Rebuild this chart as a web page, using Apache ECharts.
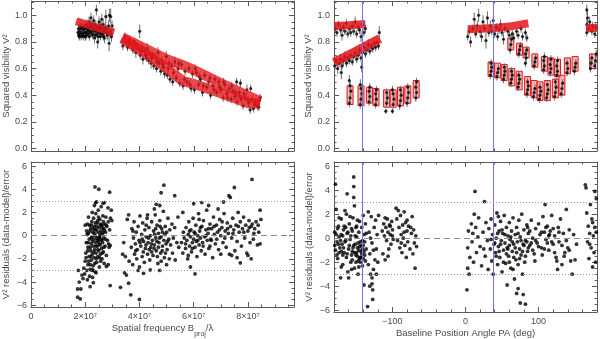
<!DOCTYPE html>
<html>
<head>
<meta charset="utf-8">
<script src="https://cdn.jsdelivr.net/npm/echarts@6/dist/echarts.min.js"></script>
<style>
html, body { margin: 0; padding: 0; background: #fff; }
#chart { width: 600px; height: 339px; }
</style>
</head>
<body>
<div id="chart"></div>
<script>
// spatial frequency is kept in units of 1e7 (labels add the x10^7)
// squared visibility vs spatial frequency: [freq, V2, error]
const vis2FreqData = [
  [1.72,0.87,0.03],[1.75,0.85,0.03],[1.78,0.88,0.03],[1.8,0.86,0.03],[1.83,0.9,0.03],[1.86,0.87,0.03],[1.9,0.85,0.03],[1.92,0.89,0.03],
  [1.95,0.92,0.03],[1.98,0.87,0.03],[2.0,0.84,0.03],[2.03,0.9,0.03],[2.05,0.93,0.04],[2.08,0.88,0.03],[2.1,0.86,0.03],[2.13,0.95,0.04],
  [2.15,0.91,0.03],[2.18,0.87,0.03],[2.2,0.98,0.04],[2.23,0.93,0.03],[2.25,0.85,0.03],[2.28,0.9,0.03],[2.3,0.96,0.04],[2.33,0.83,0.04],
  [2.35,0.88,0.03],[2.38,0.92,0.04],[2.4,1.04,0.04],[2.42,0.86,0.03],[2.45,0.8,0.05],[2.48,0.91,0.04],[2.5,0.95,0.04],[2.52,0.87,0.03],
  [2.55,0.84,0.03],[2.58,0.9,0.04],[2.6,0.97,0.04],[2.63,0.86,0.03],[2.65,0.93,0.04],[2.68,0.88,0.03],[2.7,0.83,0.04],[2.73,0.91,0.04],
  [2.75,0.99,0.05],[2.78,0.87,0.03],[2.8,0.85,0.04],[2.85,0.92,0.04],[2.88,1.0,0.05],[2.9,0.88,0.04],[2.93,0.99,0.06],[2.96,0.84,0.04],
  [2.98,0.92,0.04],[2.87,0.79,0.06],
  [1.74,0.9,0.03],[1.77,0.84,0.03],[1.81,0.92,0.03],[1.84,0.84,0.03],[1.88,0.91,0.03],[1.91,0.86,0.03],[1.94,0.84,0.03],[1.97,0.9,0.03],
  [2.01,0.87,0.03],[2.04,0.85,0.03],[2.07,0.91,0.03],[2.11,0.89,0.03],[2.14,0.84,0.03],[2.17,0.93,0.03],[2.21,0.88,0.03],[2.24,0.91,0.03],
  [2.27,0.86,0.03],[2.31,0.89,0.03],[2.34,0.93,0.03],[2.37,0.85,0.03],[2.41,0.9,0.03],[2.44,0.88,0.03],[2.47,0.84,0.03],[2.51,0.9,0.03],
  [2.54,0.92,0.04],[2.57,0.86,0.03],[2.62,0.9,0.03],[2.66,0.84,0.03],[2.71,0.88,0.03],[2.76,0.9,0.03],[2.82,0.86,0.04],[2.94,0.86,0.04],
  [3.38,0.77,0.03],[3.45,0.84,0.03],[3.5,0.8,0.03],[3.55,0.76,0.03],[3.62,0.82,0.03],[3.7,0.78,0.04],[3.75,0.74,0.03],[3.8,0.8,0.03],
  [3.86,0.72,0.04],[3.9,0.77,0.03],[3.95,0.75,0.03],[4.0,0.88,0.05],[4.02,0.7,0.03],[4.08,0.76,0.03],[4.12,0.67,0.04],[4.18,0.73,0.03],
  [4.22,0.7,0.03],[4.28,0.75,0.04],[4.33,0.66,0.03],[4.38,0.71,0.03],[4.42,0.64,0.04],[4.48,0.7,0.03],[4.52,0.62,0.03],[4.58,0.68,0.04],
  [4.62,0.6,0.03],[4.68,0.72,0.04],[4.72,0.64,0.03],[4.78,0.58,0.03],[4.82,0.66,0.03],[4.88,0.61,0.04],[4.92,0.56,0.03],[4.98,0.69,0.04],
  [5.02,0.55,0.03],[5.08,0.64,0.03],[5.12,0.52,0.03],[5.18,0.62,0.03],[5.22,0.5,0.03],[5.3,0.65,0.04],[5.35,0.53,0.03],[5.42,0.6,0.03],
  [5.48,0.49,0.03],[5.55,0.63,0.03],[5.6,0.47,0.03],[5.68,0.58,0.03],[5.75,0.5,0.03],[5.82,0.6,0.03],[5.9,0.45,0.03],[5.95,0.56,0.03],
  [6.02,0.44,0.03],[6.1,0.57,0.03],[6.18,0.48,0.03],[6.25,0.52,0.03],[6.32,0.42,0.03],[6.4,0.55,0.03],[6.48,0.46,0.03],[6.55,0.5,0.03],
  [6.62,0.4,0.03],[6.7,0.47,0.03],[6.78,0.52,0.03],[6.85,0.42,0.03],[6.92,0.5,0.03],[7.0,0.44,0.03],[7.08,0.38,0.03],[7.15,0.48,0.03],
  [7.22,0.41,0.03],[7.3,0.45,0.03],[7.38,0.37,0.03],[7.45,0.43,0.03],[7.52,0.39,0.03],[7.58,0.5,0.03],[7.6,0.35,0.03],[7.68,0.42,0.03],
  [7.72,0.49,0.03],[7.75,0.37,0.03],[7.82,0.32,0.03],[7.9,0.38,0.03],[7.96,0.44,0.04],[8.02,0.34,0.03],[8.08,0.29,0.03],[8.1,0.45,0.03],
  [8.15,0.37,0.03],[8.2,0.3,0.03],[8.28,0.35,0.03],[8.35,0.32,0.03],[8.42,0.36,0.03],
  [3.6,0.79,0.03],[3.85,0.77,0.03],[4.05,0.73,0.03],[4.25,0.68,0.03],[4.45,0.68,0.03],[4.65,0.65,0.03],[4.85,0.63,0.03],[5.05,0.6,0.03],
  [5.25,0.57,0.03],[5.45,0.64,0.03],[5.65,0.52,0.03],[5.85,0.48,0.03],[6.05,0.6,0.03],[6.2,0.54,0.03],[6.35,0.47,0.03],[6.6,0.53,0.03],
  [6.75,0.44,0.03],[6.95,0.46,0.03],[7.1,0.5,0.03],[7.25,0.38,0.03],[7.4,0.47,0.03],[7.55,0.42,0.03],[7.7,0.39,0.03],[7.85,0.41,0.03],
  [8.0,0.37,0.03],[8.25,0.33,0.03],[8.4,0.31,0.03],[8.45,0.38,0.03]
];
// model bands (red) in the frequency plot: [freq, V2]
const modelFreqShort = [[1.65,0.955],[3.05,0.87]];
const modelFreqUpper = [[3.35,0.835],[4.2,0.75],[5.0,0.67],[5.6,0.625],[6.0,0.59],[6.5,0.54],[7.0,0.49],[8.0,0.395],[8.45,0.355]];
const modelFreqLower = [[3.35,0.825],[4.2,0.715],[5.0,0.6],[5.6,0.505],[6.0,0.485],[6.5,0.45],[7.0,0.415],[8.0,0.34],[8.45,0.335]];

// residuals vs spatial frequency: [freq, residual]
const residFreq = [
  [1.72,-5.3],[1.82,-5.45],[1.72,-4.6],[1.84,-4.6],[1.78,-4.0],[1.92,-3.7],[1.75,-3.0],[1.88,-3.4],[1.98,-3.3],[2.08,-3.8],[2.18,-4.4],
  [2.27,-3.6],[2.3,-4.05],[2.36,4.2],[2.5,4.0],[2.9,3.75],[2.92,-4.3],[2.7,2.85],[2.38,2.85],[2.42,2.9],[2.85,-2.5],[2.78,-2.65],
  [2.96,2.2],[2.93,1.5],[2.98,1.3],[2.86,-0.7],[2.92,-0.85],
  [1.95,-2.8],[2.0,-2.2],[2.02,-1.5],[2.04,-0.6],[2.05,0.4],[2.06,-3.0],[2.08,1.0],[2.1,-2.5],[2.1,-1.0],[2.12,0.2],[2.14,-1.8],
  [2.15,-0.3],[2.16,0.9],[2.18,-2.9],[2.2,-1.3],[2.2,0.6],[2.22,-0.7],[2.23,-2.1],[2.24,1.2],[2.25,-0.1],[2.26,-1.6],[2.28,0.3],
  [2.29,-2.6],[2.3,-0.9],[2.31,1.5],[2.32,-0.3],[2.33,-1.9],[2.34,0.8],[2.35,-1.2],[2.36,-3.1],[2.37,0.0],[2.38,-0.6],[2.39,1.9],
  [2.4,-1.5],[2.41,0.5],[2.42,-2.3],[2.43,-0.2],[2.44,1.1],[2.45,-0.9],[2.46,-1.8],[2.47,0.3],[2.48,2.2],[2.49,-0.5],[2.5,-1.3],
  [2.51,0.7],[2.52,-2.7],[2.53,-0.1],[2.54,1.4],[2.55,-0.8],[2.56,-1.6],[2.57,0.4],[2.58,-0.3],[2.59,2.5],[2.6,-1.1],[2.61,0.9],
  [2.62,-2.0],[2.63,0.1],[2.64,-0.6],[2.65,1.7],[2.67,-1.4],[2.68,0.6],[2.69,-0.2],[2.7,-2.4],[2.72,1.0],[2.73,-0.9],[2.75,0.3],
  [2.76,1.6],[2.78,-1.7],[2.8,0.8],[2.82,-0.4],[2.84,2.4],[2.85,1.2],[2.88,-1.0],[2.9,0.5],[2.16,-3.5],[2.28,-2.95],[2.4,-3.2],
  [2.0,0.9],[2.12,1.6],[2.26,2.0],[2.34,2.6],[2.46,1.3],[2.55,1.0],[2.66,2.8],[2.22,-0.2],[2.36,0.5],[2.5,-0.2],[2.62,0.7],
  [2.03,-1.9],[2.07,0.1],[2.11,-0.6],[2.13,-2.2],[2.17,0.4],[2.19,-1.0],[2.21,-1.8],[2.23,0.9],[2.27,-0.5],[2.29,0.6],[2.31,-1.4],
  [2.33,0.2],[2.35,-2.4],[2.37,1.1],[2.39,-0.9],[2.41,-2.0],[2.43,0.8],[2.45,-0.4],[2.47,-1.2],[2.49,1.6],[2.51,-0.7],[2.53,-1.9],
  [2.55,0.1],[2.57,-2.2],[2.59,0.9],[2.61,-0.4],[2.63,-1.5],[2.65,0.3],[2.67,1.2],[2.69,-1.0],[2.71,0.5],[2.74,-0.3],[2.77,0.9],
  [2.19,-2.5],[2.25,-3.0],[2.09,-1.3],
  [3.3,-4.45],[3.45,-3.2],[3.52,-3.4],[3.6,-4.1],[3.68,-5.1],[4.0,-5.5],[3.6,1.8],[3.55,1.4],[3.42,-0.6],[3.38,-1.6],[4.9,4.35],
  [4.8,3.7],[5.3,3.45],[4.62,2.7],[4.75,2.6],[4.15,-3.25],[4.4,-2.95],[4.75,-3.0],[3.48,-1.8],[3.62,-2.2],
  [3.7,-1.0],[3.72,0.6],[3.75,-2.5],[3.78,-0.2],[3.8,1.2],[3.82,-1.6],[3.85,-0.7],[3.88,0.3],[3.9,-2.0],[3.92,-1.2],[3.95,0.8],
  [3.98,-0.4],[4.0,-2.7],[4.02,1.7],[4.05,-0.9],[4.08,0.1],[4.1,-1.8],[4.12,1.1],[4.15,-0.5],[4.18,-2.3],[4.2,0.5],[4.22,-1.1],
  [4.25,-0.1],[4.28,1.5],[4.3,-1.6],[4.32,-0.6],[4.35,0.7],[4.38,-2.1],[4.4,0.0],[4.42,-1.0],[4.45,1.2],[4.48,-0.4],[4.5,-1.7],
  [4.52,0.4],[4.55,-0.8],[4.58,1.8],[4.6,-0.2],[4.62,-1.3],[4.65,0.9],[4.68,-2.4],[4.7,0.2],[4.72,-0.6],[4.75,1.3],[4.78,-1.5],
  [4.8,-0.1],[4.82,0.6],[4.85,-0.9],[4.88,2.1],[4.9,-0.4],[4.92,-1.9],[4.95,0.8],[4.98,-0.7],[5.0,0.3],[5.02,-1.2],[5.05,1.5],
  [5.08,-0.3],[5.1,-2.0],[5.12,0.5],[5.15,-0.8],[5.2,1.0],[5.22,-1.5],[5.25,-0.2],[5.3,0.7],[5.32,-2.1],[5.38,-0.6],[5.42,1.6],
  [5.45,-1.0],[4.25,0.9],[4.45,-1.4],[4.6,0.6],[4.7,-1.0],[4.85,0.3],[4.55,2.3],[4.3,1.8],[4.1,-0.3],[3.95,-3.0],[4.8,-2.2],[5.0,-2.5],
  [4.02,-0.6],[4.14,-1.4],[4.24,-0.8],[4.34,-0.2],[4.44,-0.7],[4.54,-1.1],[4.64,-0.5],[4.74,-0.2],[4.84,-1.3],[4.94,0.1],[5.04,-0.5],
  [4.36,-1.2],[4.56,0.1],[4.66,-1.8],[4.76,0.8],[4.96,-1.5],[3.86,-1.3],[3.76,0.4],
  [8.15,4.85],[7.5,4.15],[7.3,3.45],[7.35,3.3],[6.05,-3.3],[7.72,-2.35],[8.12,-2.0],[8.45,2.2],[6.3,2.85],[6.0,2.75],[5.88,-2.7],
  [5.6,2.0],[7.1,2.9],[6.55,2.6],
  [5.55,-0.6],[5.6,-1.5],[5.62,0.3],[5.65,-0.2],[5.7,-1.1],[5.72,0.7],[5.75,-0.4],[5.78,-2.0],[5.8,0.1],[5.82,1.2],[5.85,-0.9],
  [5.88,-0.1],[5.9,0.5],[5.92,-1.4],[5.95,-0.6],[5.98,1.5],[6.0,-0.3],[6.02,0.3],[6.05,-1.0],[6.08,0.9],[6.1,-0.5],[6.12,-1.8],
  [6.15,0.0],[6.18,1.9],[6.2,-0.8],[6.22,0.4],[6.25,-0.2],[6.28,-1.3],[6.3,0.8],[6.33,-0.6],[6.36,1.3],[6.4,-0.1],[6.42,-1.6],
  [6.45,0.5],[6.48,2.2],[6.5,-0.4],[6.53,0.2],[6.56,-1.1],[6.6,1.0],[6.63,-0.3],[6.66,0.6],[6.7,-1.9],[6.73,1.6],[6.76,0.1],
  [6.8,-0.7],[6.84,0.9],[6.88,0.3],[6.92,-1.2],[6.96,1.4],[7.0,0.0],[7.04,0.7],[7.08,-0.6],[7.12,1.9],[7.16,0.4],[7.2,-1.0],
  [7.24,1.1],[7.28,0.2],[7.32,-1.6],[7.36,0.8],[7.4,-0.2],[7.44,1.5],[7.48,0.5],[7.52,-1.3],[7.56,0.9],[7.6,-0.5],[7.64,2.0],
  [7.68,0.3],[7.72,1.2],[7.76,-0.9],[7.8,0.6],[7.84,1.6],[7.88,-0.2],[7.92,0.9],[7.96,-1.5],[8.0,0.4],[8.04,1.3],[8.08,-0.6],
  [8.12,0.8],[8.16,1.0],[8.2,-0.3],[8.25,0.6],[8.3,1.2],[8.35,-0.8],[8.4,0.3],[8.45,-0.7],[8.48,1.4],[7.4,-1.7],[7.6,-1.9],
  [8.0,-1.7],[6.2,1.4],[5.8,-1.7],[6.6,-0.9],[6.9,2.3],[7.0,-1.6],
  [5.7,-0.7],[5.85,0.4],[5.95,-1.1],[6.05,0.2],[6.15,-0.4],[6.25,0.7],[6.35,-0.9],[6.45,0.0],[6.55,0.6],[6.65,-0.4],[6.75,0.8],
  [6.85,-0.3],[6.95,0.5],[7.05,1.2],[7.15,-0.2],[7.25,0.6],[7.45,0.2],[7.65,0.8],[7.85,0.3],[8.05,0.7],[8.22,0.2],[8.38,0.9]
];

// squared visibility vs position angle: [PA, V2, error]
const vis2PaData = [
  [-178,0.9,0.03],[-176,0.87,0.03],[-174,0.93,0.03],[-171,0.89,0.03],[-169,0.85,0.04],[-167,0.91,0.03],[-165,0.88,0.03],[-163,0.94,0.03],
  [-161,0.86,0.03],[-159,0.9,0.03],[-157,0.87,0.03],[-155,0.92,0.03],[-153,0.88,0.03],[-151,0.95,0.04],[-149,0.86,0.03],[-147,0.91,0.03],
  [-145,0.89,0.03],[-143,0.84,0.04],[-141,0.93,0.04],[-139,0.87,0.03],[-137,0.9,0.03],
  [-179,0.62,0.04],[-177,0.66,0.04],[-175,0.6,0.04],[-173,0.64,0.03],[-171,0.67,0.04],[-169,0.62,0.03],[-167,0.66,0.04],[-165,0.69,0.04],
  [-163,0.64,0.03],[-161,0.68,0.04],[-159,0.66,0.03],[-157,0.7,0.04],[-155,0.65,0.03],[-153,0.69,0.03],[-151,0.72,0.04],[-149,0.67,0.03],
  [-147,0.7,0.03],[-145,0.74,0.04],[-143,0.68,0.03],[-141,0.72,0.04],[-139,0.76,0.04],[-137,0.71,0.03],[-135,0.74,0.03],[-133,0.78,0.04],
  [-131,0.73,0.03],[-129,0.77,0.04],[-127,0.75,0.03],[-125,0.79,0.04],[-123,0.76,0.03],[-121,0.8,0.04],[-119,0.77,0.03],[-118,0.87,0.05],
  [-142,0.61,0.04],[-170,0.57,0.05],
  [-159,0.34,0.03],[-158,0.38,0.03],[-157,0.43,0.03],[-158,0.47,0.03],[-159,0.51,0.04],
  [-144,0.33,0.03],[-143,0.37,0.03],[-142,0.41,0.03],[-143,0.45,0.03],[-144,0.48,0.04],
  [-132,0.35,0.03],[-131,0.39,0.03],[-132,0.43,0.03],[-131,0.46,0.03],
  [-123,0.33,0.03],[-122,0.37,0.03],[-123,0.41,0.03],[-122,0.44,0.03],
  [-109,0.28,0.02],[-108,0.34,0.03],[-107,0.38,0.03],[-108,0.42,0.03],
  [-100,0.28,0.02],[-99,0.33,0.03],[-98,0.37,0.03],[-99,0.41,0.03],[-100,0.44,0.03],
  [-90,0.32,0.03],[-89,0.36,0.03],[-88,0.4,0.03],[-89,0.44,0.03],
  [-80,0.34,0.03],[-79,0.38,0.03],[-78,0.42,0.03],[-79,0.46,0.03],
  [-68,0.38,0.03],[-67,0.42,0.03],[-68,0.46,0.03],[-67,0.5,0.03],
  [3,0.84,0.03],[5,0.88,0.03],[7,0.8,0.04],[10,0.9,0.03],[12,0.97,0.05],[14,0.86,0.03],[16,0.92,0.04],[18,1.0,0.05],
  [20,0.88,0.04],[22,0.84,0.04],[24,0.95,0.05],[26,0.9,0.03],[28,0.81,0.06],[30,0.98,0.05],[32,0.87,0.03],[34,0.92,0.04],
  [36,0.88,0.03],[38,0.96,0.04],[40,0.86,0.03],[42,0.91,0.03],[44,0.84,0.03],[46,0.89,0.03],[48,0.93,0.04],[50,0.87,0.03],
  [52,0.82,0.04],[54,0.9,0.03],[58,0.88,0.03],[60,0.85,0.03],[64,0.86,0.03],[66,0.83,0.04],[70,0.88,0.03],[72,0.85,0.03],
  [76,0.9,0.03],[78,0.84,0.03],[82,0.87,0.03],[84,0.83,0.03],
  [61,0.74,0.03],[62,0.78,0.03],[63,0.82,0.03],
  [73,0.71,0.03],[74,0.74,0.03],[75,0.77,0.03],
  [82,0.64,0.03],[83,0.68,0.03],[82,0.71,0.03],[84,0.74,0.03],
  [94,0.62,0.03],[95,0.65,0.03],[96,0.68,0.03],
  [107,0.59,0.03],[108,0.62,0.03],[107,0.66,0.03],[108,0.69,0.03],
  [116,0.57,0.03],[117,0.6,0.03],[116,0.63,0.03],[117,0.67,0.03],
  [125,0.55,0.03],[126,0.58,0.03],[125,0.62,0.03],[126,0.66,0.03],
  [139,0.57,0.03],[140,0.6,0.03],[139,0.64,0.03],
  [149,0.58,0.03],[150,0.61,0.03],[151,0.64,0.03],
  [34,0.55,0.03],[35,0.58,0.03],[36,0.61,0.03],[35,0.64,0.03],
  [43,0.54,0.03],[44,0.57,0.03],[45,0.6,0.03],
  [52,0.52,0.03],[53,0.55,0.03],[54,0.58,0.03],[53,0.61,0.03],
  [62,0.49,0.03],[63,0.52,0.03],[64,0.55,0.03],[63,0.58,0.03],
  [72,0.46,0.03],[73,0.49,0.03],[74,0.52,0.03],[73,0.55,0.03],
  [84,0.41,0.03],[85,0.44,0.03],[86,0.47,0.03],[85,0.5,0.03],
  [93,0.39,0.03],[94,0.42,0.03],[95,0.45,0.03],
  [101,0.37,0.03],[102,0.4,0.03],[103,0.43,0.03],[102,0.46,0.03],
  [111,0.38,0.03],[112,0.41,0.03],[113,0.44,0.03],[112,0.48,0.03],
  [122,0.39,0.03],[123,0.42,0.03],[124,0.46,0.03],[123,0.5,0.03],
  [131,0.41,0.03],[132,0.45,0.03],[133,0.49,0.03],
  [166,0.87,0.03],[166,0.93,0.04],[167,0.98,0.05],[166,1.04,0.04],[169,0.9,0.03],[170,0.95,0.04],[173,0.88,0.03],[174,0.92,0.03],
  [177,0.86,0.03],[178,0.91,0.03],
  [171,0.6,0.03],[172,0.64,0.03],[173,0.68,0.03],[177,0.62,0.03],[178,0.66,0.03],[179,0.71,0.03]
];
// model: continuous bands [PA, V2] and short strips [PA, low, high]
const modelPaBandA = [[-180,0.92],[-160,0.925],[-137,0.935]];
const modelPaBandB = [[-180,0.645],[-150,0.73],[-117,0.825]];
const modelPaBandD = [[3,0.895],[40,0.905],[60,0.915],[86,0.94]];
const modelPaBandG = [[165,0.905],[180,0.905]];
const modelPaStrips = [
  [-158,0.33,0.47],[-143,0.32,0.47],[-131.5,0.34,0.46],[-122.5,0.32,0.45],[-108,0.31,0.44],[-99,0.31,0.44],[-89,0.32,0.46],[-79,0.34,0.47],[-67.5,0.38,0.51],
  [62,0.74,0.83],[74,0.7,0.79],[83,0.68,0.76],[95,0.61,0.71],[108,0.58,0.69],[117,0.55,0.68],[126,0.54,0.67],[139.5,0.56,0.68],[150,0.58,0.69],
  [35,0.54,0.65],[44,0.53,0.64],[53,0.51,0.63],[63.4,0.47,0.6],[73.5,0.44,0.58],[85,0.4,0.54],[94,0.38,0.51],[102,0.36,0.5],[112,0.36,0.51],[123,0.38,0.52],[132,0.4,0.55],
  [174,0.6,0.71]
];

// residuals vs position angle: [PA, residual]
const residPa = [
  [-179,0.5],[-178,4.5],[-178,-1.0],[-177,2.4],[-176,-0.3],[-175,-1.7],[-174,1.0],[-173,0.1],[-172,-0.8],[-171,-3.3],[-170,1.6],
  [-169,-0.5],[-168,-2.2],[-167,0.7],[-166,-1.2],[-165,2.3],[-164,-0.2],[-163,-1.6],[-162,3.7],[-162,0.4],[-161,-2.8],[-160,-0.9],
  [-159,1.2],[-158,-0.1],[-157,-2.0],[-156,0.8],[-155,-1.1],[-154,1.7],[-153,5.1],[-153,4.3],[-153,3.4],[-153,-0.6],[-152,2.7],
  [-152,-2.5],[-151,0.2],[-150,-1.4],[-149,1.0],[-148,-0.8],[-147,-3.0],[-146,0.5],[-145,-1.7],[-145,1.4],[-144,-0.3],[-143,-1.1],
  [-142,0.9],[-141,-2.3],[-140,-0.6],[-139,-3.9],[-139,0.3],[-138,-1.4],[-137,1.2],[-136,-0.9],[-170,0.3],[-166,1.0],[-160,-3.3],
  [-158,1.8],[-150,0.9],[-147,-1.9],[-144,-1.6],[-141,-0.2],[-175,0.8],[-168,-1.4],[-156,-2.6],[-163,2.0],[-149,-1.2],[-146,-2.4],
  [-143,-1.6],[-140,1.9],
  [-179,-0.6],[-177,0.3],[-176,-1.4],[-174,-0.5],[-173,1.7],[-171,-0.2],[-170,-1.1],[-168,0.2],[-167,-0.8],[-165,-0.3],[-164,0.9],
  [-162,-1.3],[-161,0.5],[-159,-0.6],[-157,0.2],[-156,-1.4],[-155,0.6],[-154,-0.8],[-152,-1.2],[-151,-0.5],[-150,-2.0],[-149,0.1],
  [-148,-1.5],[-147,-0.4],[-146,-1.0],[-145,-0.7],[-144,-2.0],[-143,-0.6],[-142,-1.3],[-141,-0.9],[-140,-1.7],[-139,-1.1],[-138,-0.3],
  [-137,-1.9],[-136,0.4],[-148,1.5],[-155,-1.8],[-170,-2.4],[-173,-1.2],
  [-134,-5.7],[-133,-2.2],[-132,0.5],[-131,-1.3],[-130,-3.0],[-129,1.8],[-128,-3.8],[-128,-0.4],[-127,-5.1],[-127,-4.3],[-126,-2.6],
  [-125,0.9],[-124,-1.8],[-123,1.5],[-122,-0.9],[-121,0.3],[-120,-2.0],[-119,1.9],[-133,2.2],[-130,0.0],[-126,-1.0],[-122,-3.0],
  [-131,-4.0],[-128,-3.3],
  [-114,0.6],[-113,-1.3],[-112,1.2],[-111,0.2],[-110,-1.8],[-109,0.9],[-108,-0.2],[-107,1.6],[-106,0.5],[-105,-0.9],[-104,1.1],
  [-103,0.3],[-102,-0.5],[-101,1.4],[-100,0.7],[-99,-0.1],[-110,1.7],[-106,-1.5],[-103,1.0],[-100,0.2],
  [-95,2.5],[-94,1.6],[-93,-0.2],[-92,2.3],[-91,0.9],[-90,-0.8],[-89,1.9],[-88,0.3],[-87,-1.2],[-86,1.1],[-85,0.0],[-84,2.2],
  [-83,-0.6],[-82,1.3],[-81,-1.6],[-80,0.6],[-79,-0.3],[-78,1.0],[-76,-0.9],[-74,0.4],[-73,1.8],[-72,-1.3],[-71,0.7],[-70,-0.4],
  [-69,-2.5],[-68,0.2],[-67,-0.7],[-84,0.5],[-88,-0.4],[-80,1.5],[-75,0.9],
  [2,-4.3],[3,-0.8],[3,-2.5],[4,0.6],[5,-3.0],[6,-1.6],[8,1.2],[9,-0.3],[10,0.4],[11,-2.0],[12,2.0],[13,3.9],[14,0.9],[15,-1.2],
  [17,0.1],[18,1.7],[20,-0.7],[22,-2.3],[24,0.5],[26,3.05],[27,-1.5],[28,1.3],[30,-0.2],[31,-2.6],[32,0.8],[34,-0.9],[35,1.6],
  [36,-1.9],[37,0.3],[38,-3.0],[39,-0.5],[40,1.1],[41,-1.2],[42,0.0],[43,2.1],[44,-2.2],[45,-0.7],[46,0.6],[47,-1.6],[48,1.4],
  [49,-0.2],[50,-2.8],[51,0.4],[52,-1.0],[53,1.9],[54,-0.4],[55,-2.1],[56,0.9],[57,-3.9],[57,-0.8],[58,0.2],[59,-1.5],[60,1.3],
  [61,-0.1],[62,-2.5],[63,0.6],[64,-1.1],[65,1.7],[66,-0.5],[67,-3.4],[68,0.3],[69,-1.8],[70,-4.6],[70,0.9],[71,-0.3],[72,-4.2],
  [72,-2.2],[73,1.5],[74,-0.9],[75,-5.4],[75,0.1],[76,-1.4],[77,2.0],[78,-3.0],[79,-4.7],[79,-0.5],[80,0.7],[81,-2.0],[82,-5.5],
  [82,-0.2],[84,1.1],[85,-1.1],[86,0.4],[88,-0.6],[90,1.5],[92,0.0],[94,-1.3],[96,0.8],[98,-0.4],[100,1.2],[102,0.3],[104,-0.8],
  [106,1.8],[108,0.5],[109,2.8],[110,-0.1],[112,1.0],[114,-1.0],[116,0.6],[118,1.9],[120,-0.5],[122,0.2],[124,-1.6],[126,-2.6],
  [127,0.9],[128,-0.3],[130,1.6],[132,-2.2],[134,0.4],[136,-1.2],[138,2.4],[140,-0.8],[142,0.7],[144,-1.9],[146,-3.0],[148,0.3],
  [150,-1.8],[152,-0.5],[60,-0.6],[65,-2.6],[85,0.9],[95,-1.9],[105,-1.4],[115,0.3],[125,-1.9],[135,-1.5],[45,1.8],[35,-0.1],[25,-0.9],
  [40,-0.4],[42,-1.5],[44,0.4],[46,-1.1],[48,-0.5],[50,0.7],[52,-2.0],[54,0.3],[56,-1.3],[58,-0.9],[60,-2.0],[62,0.1],[64,-0.3],
  [66,-1.6],[68,-0.8],[70,-1.2],[72,0.4],[74,-1.7],[76,-0.2],[78,-1.1],[80,-0.6],[82,-1.5],[84,-0.3],[86,-0.8],[88,0.6],[90,-0.4],
  [92,-1.0],[96,-0.2],[100,-0.7],[104,0.5],[108,-0.9],[110,0.9],[112,-0.4],[114,0.2],[118,-0.3],[120,0.8],[122,-1.2],[128,0.5],
  [132,-0.6],[138,-0.2],[142,-1.0],
  [164,4.45],[165,4.2],[166,2.1],[167,-0.3],[168,1.0],[169,-1.7],[170,0.4],[171,2.8],[172,-0.8],[173,1.6],[174,-2.4],[175,0.2],
  [176,-1.2],[177,3.9],[177,0.9],[178,-2.0],[179,0.5],[179,3.3],[170,-0.5],[174,1.3]
];

const residualZero = [0];
const residualLimits = [3, -3];
const paMarkers = [-142, 38];

// tick label positions
const visTicks = [0, 0.2, 0.4, 0.6, 0.8, 1.0];
const resTicks = [-6, -4, -2, 0, 2, 4, 6];
const freqTicks = [0, 2, 4, 6, 8];
const paTicks = [-100, 0, 100];

const FONT = '"Liberation Sans", Arial, sans-serif';
const AXIS = '#5a5a5a';
const TEXT = '#4a4a4a';
const RED = '#e3161b';

const V2_MIN = -0.019, V2_MAX = 1.107;
const R_MIN = -6.15, R_MAX = 6.35;
const F_MIN = 0, F_MAX = 9.7;
const PA_MIN = -180, PA_MAX = 180;

const minus = v => (v < 0 ? '\u2212' + (-v) : String(v));
const fmtVis = v => v.toFixed(1);
const fmtFreq = v => (v === 0 ? '0' : v + '\u00d710\u2077');

function frameAxis(grid, pos, min, max, minor, extra) {
  return Object.assign({
    type: 'value', gridIndex: grid, position: pos, min: min, max: max,
    axisLine: { show: true, onZero: false, lineStyle: { color: AXIS, width: 1 } },
    axisTick: { show: true, inside: true, length: 5, lineStyle: { color: AXIS } },
    minorTick: { show: true, splitNumber: minor, length: 2.5, lineStyle: { color: AXIS } },
    splitLine: { show: false },
    axisLabel: { show: false }
  }, extra || {});
}
function tickLabels(values, fmt, margin) {
  return { show: true, color: TEXT, fontSize: 9, fontFamily: FONT, margin: margin,
    customValues: values, formatter: fmt };
}
const nameStyle = { color: TEXT, fontSize: 9.5, fontFamily: FONT };

const freqX = { interval: 2 };
const paX = { splitNumber: 4 };
const visY = { splitNumber: 5 };
const resY = { splitNumber: 6 };

const xAxes = [
  frameAxis(0, 'bottom', F_MIN, F_MAX, 4, freqX),
  frameAxis(0, 'top', F_MIN, F_MAX, 4, freqX),
  frameAxis(1, 'bottom', F_MIN, F_MAX, 4, Object.assign({
    axisLabel: tickLabels(freqTicks, fmtFreq, 5),
    name: '{t|Spatial frequency B}{s|proj}{t|/\u03bb}', nameLocation: 'middle', nameGap: 16,
    nameTextStyle: { rich: {
      t: { color: TEXT, fontSize: 9.5, fontFamily: FONT, lineHeight: 13, verticalAlign: 'top' },
      s: { color: TEXT, fontSize: 7, fontFamily: FONT, lineHeight: 15, verticalAlign: 'bottom' }
    } }
  }, freqX)),
  frameAxis(1, 'top', F_MIN, F_MAX, 4, freqX),
  frameAxis(2, 'bottom', PA_MIN, PA_MAX, 5, paX),
  frameAxis(2, 'top', PA_MIN, PA_MAX, 5, paX),
  frameAxis(3, 'bottom', PA_MIN, PA_MAX, 5, paX),
  frameAxis(3, 'top', PA_MIN, PA_MAX, 5, paX),
  // labels and title of the angle axis, on a bare overlay grid of the same size
  {
    type: 'value', gridIndex: 4, position: 'bottom', min: PA_MIN, max: PA_MAX, splitNumber: 4,
    axisLine: { show: false, onZero: false }, axisTick: { show: false }, minorTick: { show: false },
    splitLine: { show: false },
    axisLabel: tickLabels(paTicks, minus, 5),
    name: 'Baseline Position Angle PA (deg)', nameLocation: 'middle', nameGap: 16, nameTextStyle: nameStyle
  }
];

function leftY(grid, min, max, values, fmt, name, ext) {
  return frameAxis(grid, 'left', min, max, 4, Object.assign({
    axisLabel: tickLabels(values, fmt, 4),
    name: name, nameLocation: 'middle', nameGap: 20, nameTextStyle: nameStyle
  }, ext));
}
const yAxes = [
  leftY(0, V2_MIN, V2_MAX, visTicks, fmtVis, 'Squared visibility V\u00b2', visY),
  frameAxis(0, 'right', V2_MIN, V2_MAX, 4, visY),
  leftY(1, R_MIN, R_MAX, resTicks, minus, 'V\u00b2 residuals (data-model)/error', resY),
  frameAxis(1, 'right', R_MIN, R_MAX, 4, resY),
  leftY(2, V2_MIN, V2_MAX, visTicks, fmtVis, 'Squared visibility V\u00b2', visY),
  frameAxis(2, 'right', V2_MIN, V2_MAX, 4, visY),
  leftY(3, R_MIN, R_MAX, resTicks, minus, 'V\u00b2 residuals (data-model)/error', resY),
  frameAxis(3, 'right', R_MIN, R_MAX, 4, resY),
  { type: 'value', gridIndex: 4, min: R_MIN, max: R_MAX, show: false }
];

function errorBars(data, ax) {
  return {
    type: 'custom', xAxisIndex: ax, yAxisIndex: ax, data: data, z: 2, silent: true, clip: true,
    renderItem: function (params, api) {
      const x = api.value(0), y = api.value(1), e = api.value(2);
      const p1 = api.coord([x, y - e]);
      const p2 = api.coord([x, y + e]);
      return { type: 'line', shape: { x1: p1[0], y1: p1[1], x2: p2[0], y2: p2[1] },
        style: { stroke: '#6d6d6d', lineWidth: 1 } };
    }
  };
}
function dots(data, ax, size) {
  return { type: 'scatter', xAxisIndex: ax, yAxisIndex: ax, data: data, z: 3, silent: true,
    symbol: 'circle', symbolSize: size, itemStyle: { color: '#000' } };
}
function band(data, ax, width, opacity) {
  return { type: 'line', xAxisIndex: ax, yAxisIndex: ax, data: data, z: 4, silent: true,
    showSymbol: false, symbol: 'none', lineStyle: { color: RED, width: width, opacity: opacity } };
}
function guideLines(ax) {
  return {
    type: 'line', xAxisIndex: ax, yAxisIndex: ax, data: [], silent: true, z: 1,
    markLine: { silent: true, symbol: 'none', label: { show: false }, animation: false,
      data: residualZero.map(v => ({ yAxis: v, lineStyle: { color: '#8a8a8a', type: [6, 4], width: 1 } }))
        .concat(residualLimits.map(v => ({ yAxis: v, lineStyle: { color: '#9a9a9a', type: [1, 2], width: 1 } }))) }
  };
}
function paLines(ax) {
  return {
    type: 'line', xAxisIndex: ax, yAxisIndex: ax, data: [], silent: true, z: 5,
    markLine: { silent: true, symbol: 'none', label: { show: false }, animation: false,
      data: paMarkers.map(v => ({ xAxis: v, lineStyle: { color: '#6f73e6', type: 'solid', width: 1 } })) }
  };
}

const stripSeries = {
  type: 'custom', xAxisIndex: 4, yAxisIndex: 4, data: modelPaStrips, z: 1, silent: true, clip: true,
  renderItem: function (params, api) {
    const top = api.coord([api.value(0), api.value(2)]);
    const bot = api.coord([api.value(0), api.value(1)]);
    return { type: 'rect', shape: { x: top[0] - 3, y: top[1], width: 6, height: bot[1] - top[1] },
      style: { fill: 'rgba(240,120,120,0.55)', stroke: RED, lineWidth: 1 } };
  }
};

const chart = echarts.init(document.getElementById('chart'));
chart.setOption({
  animation: false,
  backgroundColor: '#fff',
  grid: [
    { left: 30, top: 1, width: 264, height: 150 },
    { left: 30, top: 162, width: 264, height: 150 },
    { left: 334, top: 1, width: 263, height: 150 },
    { left: 334, top: 162, width: 263, height: 150 },
    { left: 334, top: 162, width: 263, height: 150 }
  ],
  xAxis: xAxes,
  yAxis: yAxes,
  series: [
    errorBars(vis2FreqData, 0),
    dots(vis2FreqData, 0, 3.2),
    band(modelFreqShort, 0, 8, 0.85),
    band(modelFreqUpper, 0, 10, 0.78),
    band(modelFreqLower, 0, 10, 0.78),

    guideLines(2),
    dots(residFreq, 2, 3.8),

    stripSeries,
    errorBars(vis2PaData, 4),
    dots(vis2PaData, 4, 3.2),
    band(modelPaBandA, 4, 8, 0.85),
    band(modelPaBandB, 4, 9, 0.85),
    band(modelPaBandD, 4, 8, 0.85),
    band(modelPaBandG, 4, 8, 0.85),
    paLines(4),

    guideLines(6),
    dots(residPa, 6, 3.8),
    paLines(6),
    { type: 'scatter', xAxisIndex: 8, yAxisIndex: 8, data: [], silent: true }
  ]
});
</script>
</body>
</html>
